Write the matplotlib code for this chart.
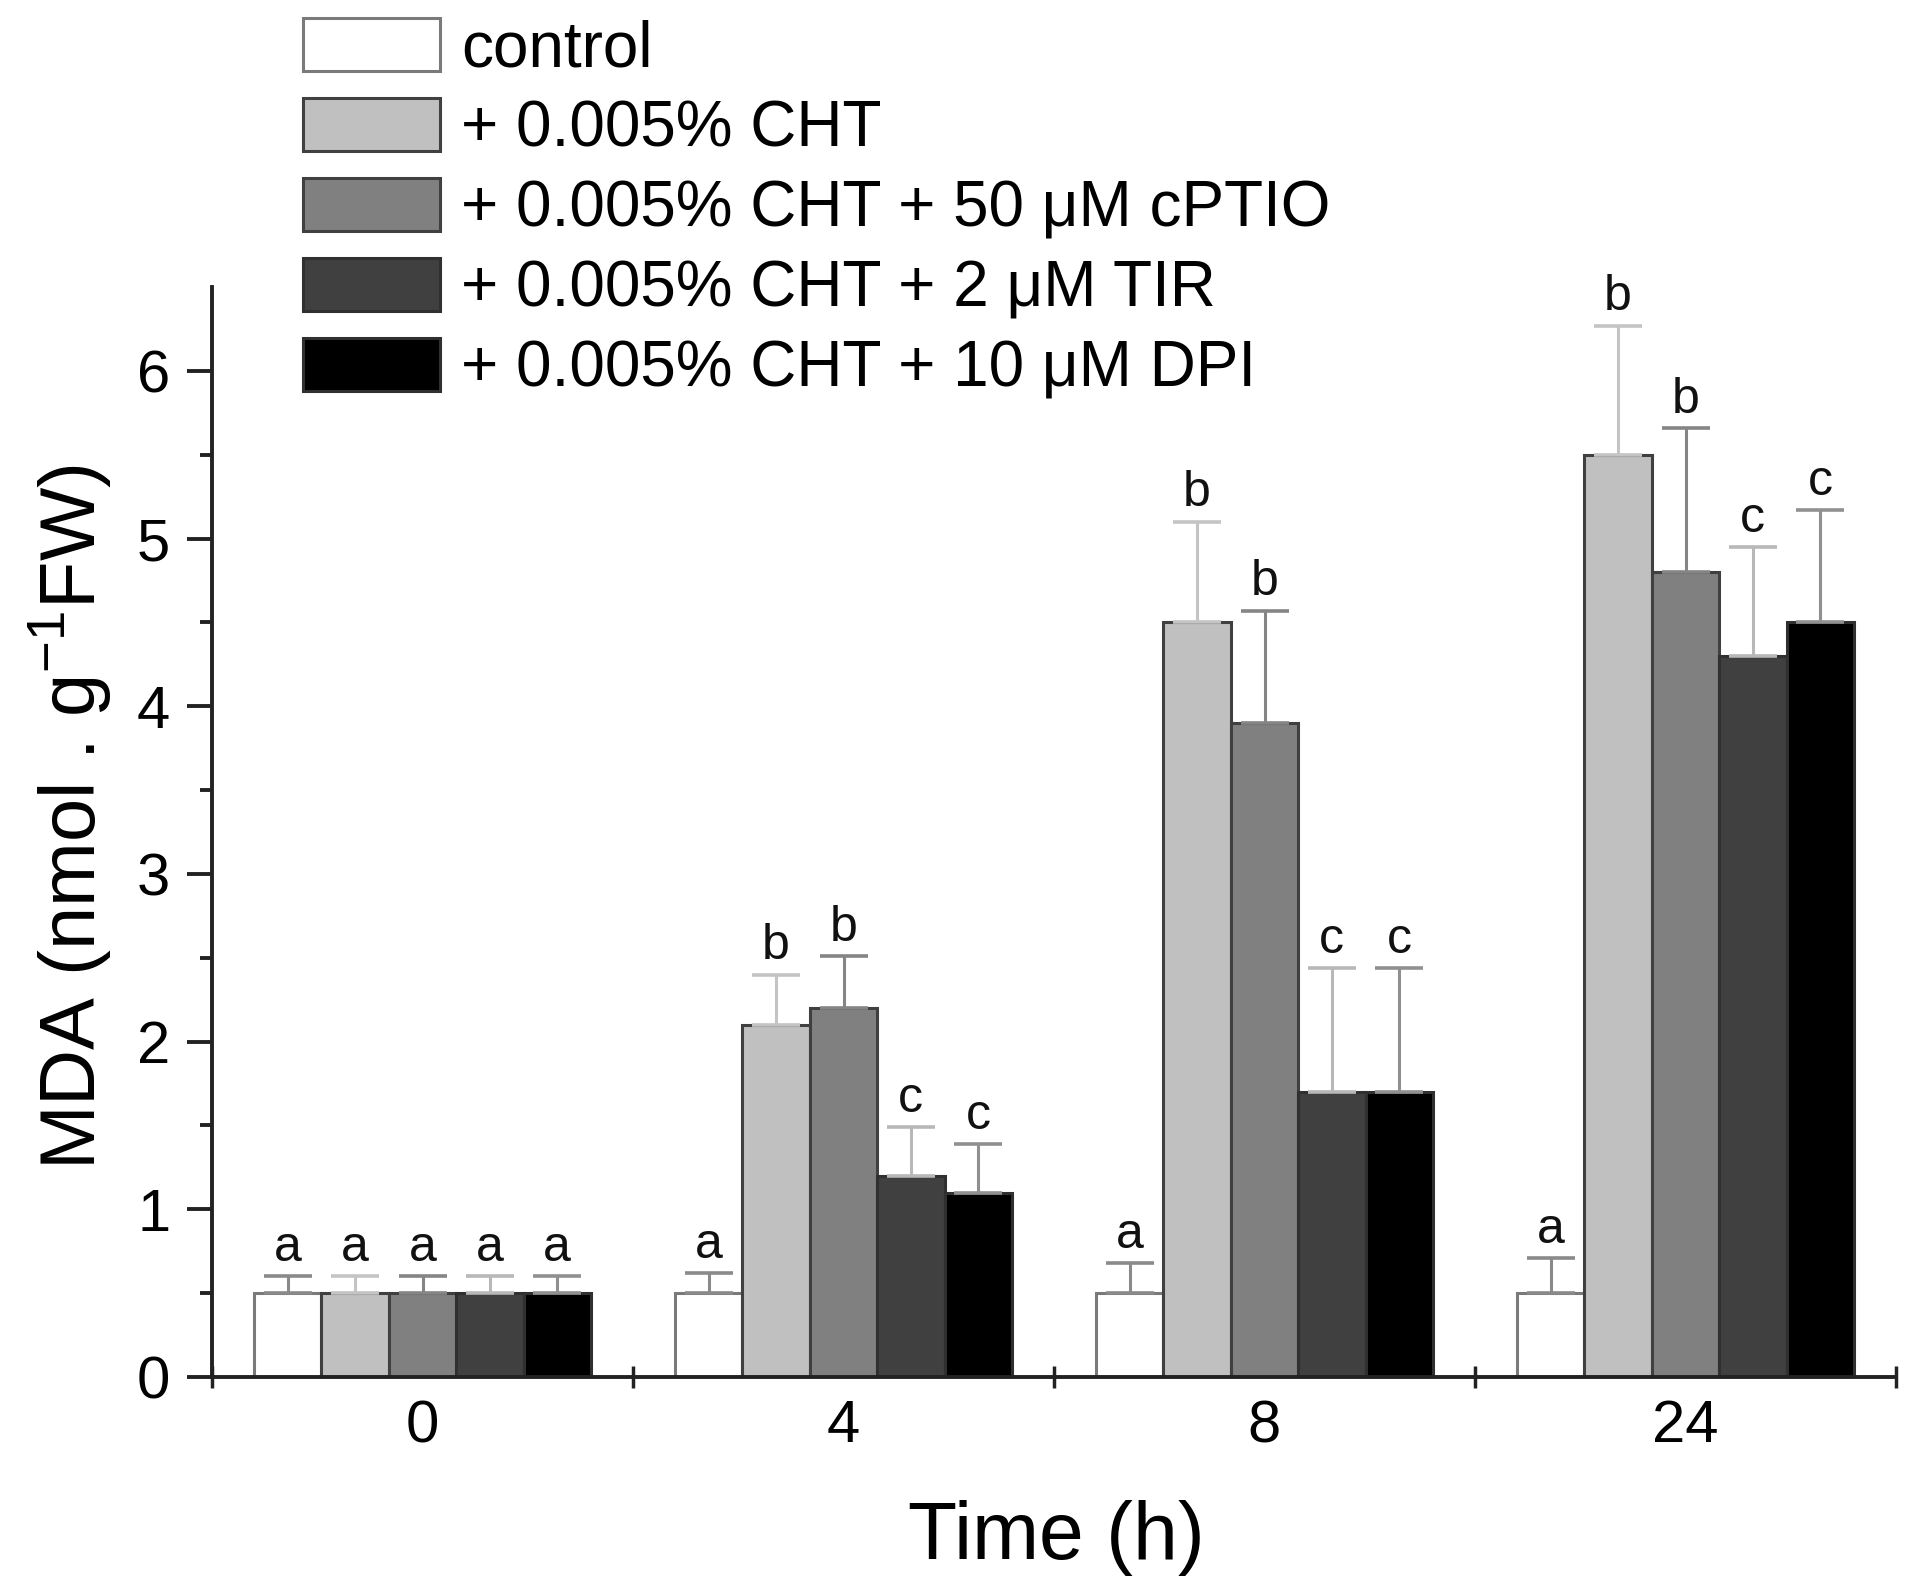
import numpy as np
import matplotlib
matplotlib.use("Agg")
import matplotlib.pyplot as plt

plt.rcParams['font.family'] = ['Liberation Sans', 'DejaVu Sans']

# ---- data ----
time_labels = ['0', '4', '8', '24']
series_names = ['control',
                '+ 0.005% CHT',
                '+ 0.005% CHT + 50 \u03bcM cPTIO',
                '+ 0.005% CHT + 2 \u03bcM TIR',
                '+ 0.005% CHT + 10 \u03bcM DPI']
control = [0.5, 0.5, 0.5, 0.5]
cht = [0.5, 2.1, 4.5, 5.5]
cptio = [0.5, 2.2, 3.9, 4.8]
tir = [0.5, 1.2, 1.7, 4.3]
dpi = [0.5, 1.1, 1.7, 4.5]
err_control = [0.1, 0.12, 0.18, 0.21]
err_cht = [0.1, 0.3, 0.6, 0.77]
err_cptio = [0.1, 0.31, 0.67, 0.86]
err_tir = [0.1, 0.29, 0.74, 0.65]
err_dpi = [0.1, 0.29, 0.74, 0.67]
let_control = ['a', 'a', 'a', 'a']
let_cht = ['a', 'b', 'b', 'b']
let_cptio = ['a', 'b', 'b', 'b']
let_tir = ['a', 'c', 'c', 'c']
let_dpi = ['a', 'c', 'c', 'c']

values = [control, cht, cptio, tir, dpi]
errors = [err_control, err_cht, err_cptio, err_tir, err_dpi]
letters = [let_control, let_cht, let_cptio, let_tir, let_dpi]

fills = ['#ffffff', '#c0c0c0', '#808080', '#404040', '#000000']
edges = ['#7a7a7a', '#404040', '#404040', '#303030', '#303030']
ecolors = ['#8a8a8a', '#c4c4c4', '#858585', '#b8b8b8', '#909090']

W, H = 1927, 1585
fig = plt.figure(figsize=(W / 100, H / 100), dpi=100)
ax = fig.add_axes([212 / W, 1 - 1377 / H, (1896 - 212) / W, (1377 - 287) / H])

x = np.arange(len(time_labels))
bw = 0.16
handles = []
for i in range(5):
    pos = x + (i - 2) * bw
    v = np.array(values[i])
    e = np.array(errors[i])
    b = ax.bar(pos, v, bw, color=fills[i], edgecolor=edges[i], linewidth=2.2,
               yerr=[np.zeros_like(e), e], capsize=17,
               error_kw=dict(ecolor=ecolors[i], elinewidth=2.2, capthick=2.6),
               zorder=2, label=series_names[i])
    handles.append(b)
    for j in range(len(x)):
        ax.annotate(letters[i][j], (pos[j], v[j] + e[j]), xytext=(0, 11),
                    textcoords='offset points', ha='center', va='baseline',
                    fontsize=36, color='#111111')

ax.set_xlim(-0.5, 3.5)
ax.set_ylim(0, 6.5)
for s in ['top', 'right']:
    ax.spines[s].set_visible(False)
for s in ['left', 'bottom']:
    ax.spines[s].set_linewidth(2.8)
    ax.spines[s].set_color('#222222')

ax.set_xticks(x)
ax.set_xticklabels(time_labels)
ax.set_xticks([-0.5, 0.5, 1.5, 2.5, 3.5], minor=True)
ax.tick_params(axis='x', which='major', length=0, pad=16, labelsize=43)
ax.tick_params(axis='x', which='minor', direction='inout', length=16, width=2.5,
               color='#222222')
ax.set_yticks(np.arange(0, 7, 1))
ax.set_yticks(np.arange(0.5, 6.5, 1), minor=True)
ax.tick_params(axis='y', which='major', length=18, width=2.8, pad=12,
               labelsize=43, color='#222222')
ax.tick_params(axis='y', which='minor', length=9, width=2.8, color='#222222')

fig.text(1056 / W, 1 - 1538 / H, 'Time (h)', ha='center', va='center', fontsize=58)
fig.text(70 / W, 1 - 817 / H, 'MDA (nmol . g$^{\\mathregular{-1}}$FW)', rotation=90,
         ha='center', va='center', fontsize=56)

fig.legend(handles=handles, labels=series_names, loc='upper left',
           bbox_to_anchor=(303 / W, 1 - 18 / H), bbox_transform=fig.transFigure,
           frameon=False, fontsize=46, handlelength=2.15, handleheight=0.9,
           handletextpad=0.33, labelspacing=0.29, borderpad=0, borderaxespad=0)

fig.savefig('out.png', dpi=100)
